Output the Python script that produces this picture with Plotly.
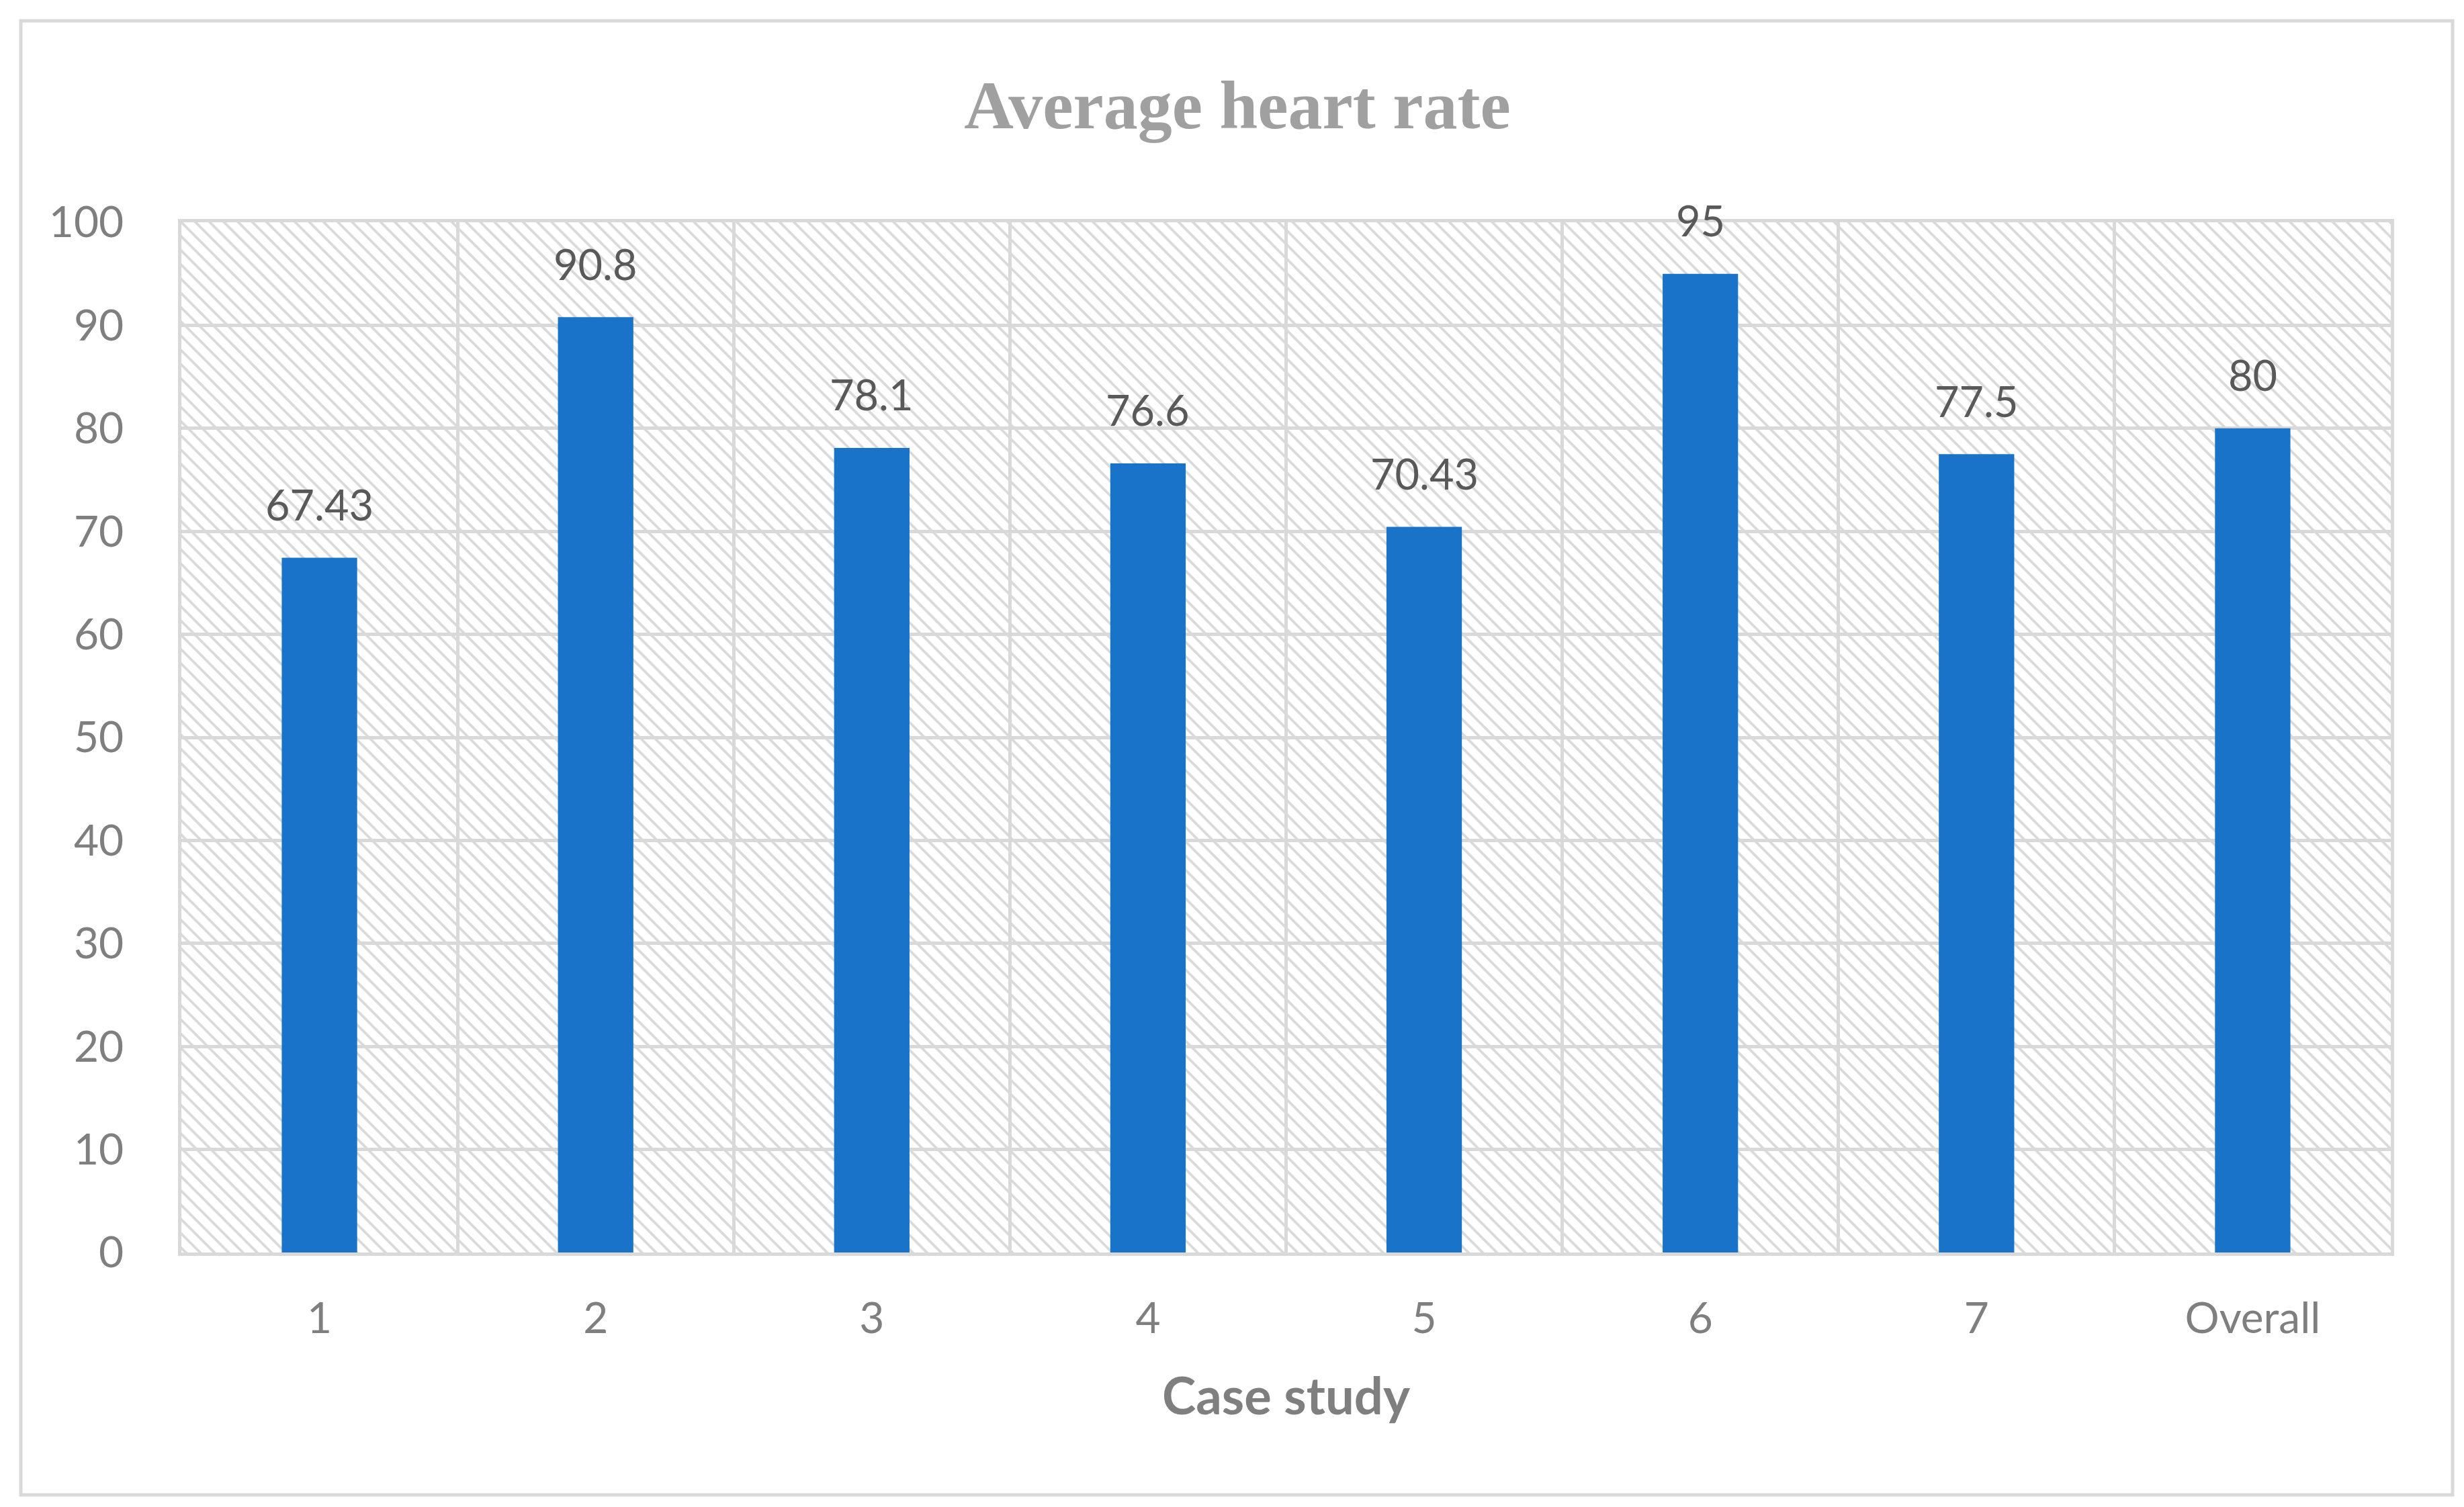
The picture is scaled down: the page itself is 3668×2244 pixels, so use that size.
import plotly.graph_objects as go

# ---- data ----
categories = ["1", "2", "3", "4", "5", "6", "7", "Overall"]
heart_rate = [67.43, 90.8, 78.1, 76.6, 70.43, 95, 77.5, 80]
label_text = ["67.43", "90.8", "78.1", "76.6", "70.43", "95", "77.5", "80"]
y_ticks = [0, 10, 20, 30, 40, 50, 60, 70, 80, 90, 100]
y_max = 100

W, H = 3668, 2244
L, R, T, B = 262, 117, 323, 387
pw, ph = W - L - R, H - T - B

fig = go.Figure()

# hatched plot-area background
fig.add_trace(go.Bar(
    x=categories, y=[y_max] * len(categories), width=1.0,
    marker=dict(color="#d9d9d9", line=dict(width=0),
                pattern=dict(shape="\\", size=15, solidity=0.25, fillmode="replace")),
    hoverinfo="skip", showlegend=False,
))

fig.add_trace(go.Bar(
    x=categories, y=heart_rate, width=0.273,
    marker=dict(color="#1873C9", line=dict(width=0)),
    showlegend=False,
))

# value labels (category position = index on the category axis)
for i, (v, t) in enumerate(zip(heart_rate, label_text)):
    fig.add_annotation(x=i, y=v, xref="x", yref="y", text=t, showarrow=False,
                       yanchor="middle", yshift=80,
                       font=dict(family="Lato", size=63, color="#595959"))

# outer chart border
fig.add_shape(type="rect", xref="paper", yref="paper",
              x0=(23 - L) / pw, x1=(3643 - L) / pw,
              y0=(H - B - 2218) / ph, y1=1 + (T - 23) / ph,
              line=dict(color="#d9d9d9", width=5), fillcolor="rgba(0,0,0,0)", layer="below")

fig.update_layout(
    width=W, height=H,
    margin=dict(l=L, r=R, t=T, b=B, autoexpand=False),
    paper_bgcolor="white", plot_bgcolor="white",
    barmode="overlay",
    title=dict(text="Average heart rate", x=0.5, xref="container", xanchor="center",
               y=1 - 147 / H, yref="container", yanchor="middle",
               font=dict(family="Liberation Serif", size=102, color="#a0a0a0", weight="bold")),
    xaxis=dict(type="category", range=[-0.5, 7.5], tickson="boundaries",
               showgrid=True, gridcolor="#d9d9d9", gridwidth=5,
               showline=True, linecolor="#d9d9d9", linewidth=5, mirror=True,
               ticks="", ticklabelstandoff=38,
               tickfont=dict(family="Lato", size=64, color="#7f7f7f"),
               title=dict(text="Case study", standoff=57,
                          font=dict(family="Lato", size=76, color="#7f7f7f", weight="bold"))),
    yaxis=dict(range=[0, y_max], tickvals=y_ticks, showgrid=True, gridcolor="#d9d9d9", gridwidth=5,
               zeroline=False, showline=True, linecolor="#d9d9d9", linewidth=5, mirror=True,
               ticks="", ticklabelstandoff=68,
               tickfont=dict(family="Lato", size=64, color="#7f7f7f")),
)

fig.write_html("out.html")
